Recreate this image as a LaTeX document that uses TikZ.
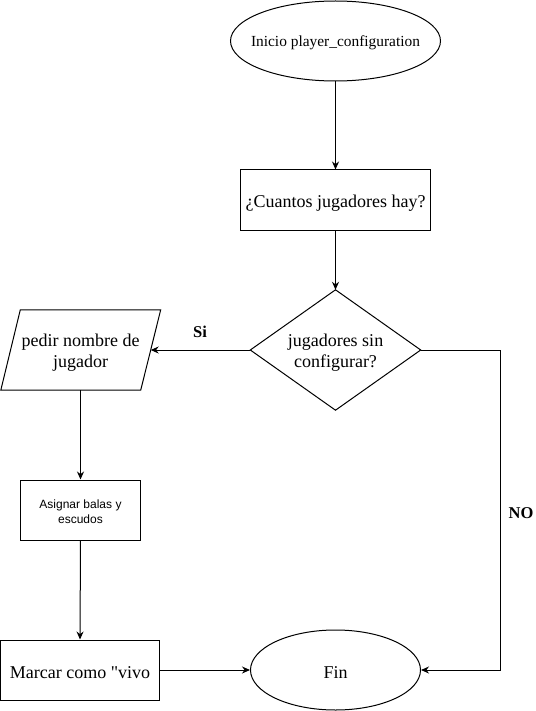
\documentclass[tikz,border=0pt]{standalone}
\usepackage{fontspec}
\setmainfont{Liberation Serif}
\setsansfont{Liberation Sans}
\newfontfamily\serifraw{Liberation Serif}
\usetikzlibrary{shapes.geometric,arrows.meta}
\begin{document}
\begin{tikzpicture}[x=1pt,y=-1pt,
  base/.style={draw, line width=1pt, inner sep=0pt},
  term/.style={base, ellipse},
  box/.style={base, rectangle},
  ghost/.style={rectangle, inner sep=0pt},
  txt/.style={label={[align=center, inner sep=0pt, font=\fontsize{18}{21}\selectfont, yshift=-3pt]center:{#1}}},
  smalltxt/.style={label={[align=center, inner sep=0pt, font=\fontsize{15.4}{18}\selectfont, yshift=-2pt]center:{#1}}},
  sanstxt/.style={label={[align=center, inner sep=0pt, font=\sffamily\fontsize{12}{15}\selectfont, yshift=-1.5pt]center:{#1}}},
  outline/.style={line width=1pt},
  arr/.style={-{Stealth[length=8pt,width=7pt]}, line width=1pt},
  lbl/.style={font=\fontsize{16.5}{19}\selectfont\bfseries}]
\useasboundingbox (0,0) rectangle (535,711);
% start terminator
\node[ghost, minimum width=210, minimum height=80, smalltxt={Inicio player\_configuration}] (ini) at (335.5,41) {};
\draw[outline] (ini.center) ellipse [x radius=105, y radius=40];
% process
\node[box, minimum width=190, minimum height=60, txt={¿Cuantos jugadores hay?}] (q) at (335.5,200) {};
% decision
\node[ghost, minimum width=170, minimum height=120, txt={jugadores sin\\configurar?}] (d) at (335.5,350) {};
\draw[outline] (d.north) -- (d.east) -- (d.south) -- (d.west) -- cycle;
% input
\node[ghost, minimum width=140, minimum height=80, txt={pedir nombre de\\jugador}] (p) at (80.5,350) {};
\draw[outline] ([xshift=10pt]p.north west) -- ([xshift=10pt]p.north east) -- ([xshift=-10pt]p.south east) -- ([xshift=-9.5pt]p.south west) -- cycle;
\node[box, minimum width=120, minimum height=60, sanstxt={Asignar balas y\\escudos}] (a) at (80.5,510) {};
\node[box, minimum width=159, minimum height=60, txt={\serifraw Marcar como "vivo}] (m) at (80,670) {};
\node[term, minimum width=170, minimum height=80, txt={Fin}] (fin) at (335.5,670) {};
\coordinate (nc) at (500,350);
\draw[arr] (ini.south) -- (q.north);
\draw[arr] (q.south) -- (d.north);
\draw[arr] (d.west) -- (p.east);
\draw[arr] (p.south) -- (a.north);
\draw[arr] (a.south) -- (m.north);
\draw[arr] (m.east) -- (fin.west);
\draw[arr] (d.east) -- (nc) |- (fin.east);
\node[lbl] (si) at (200,332) {Si};
\node[lbl] (no) at (521,513) {NO};
\end{tikzpicture}
\end{document}
